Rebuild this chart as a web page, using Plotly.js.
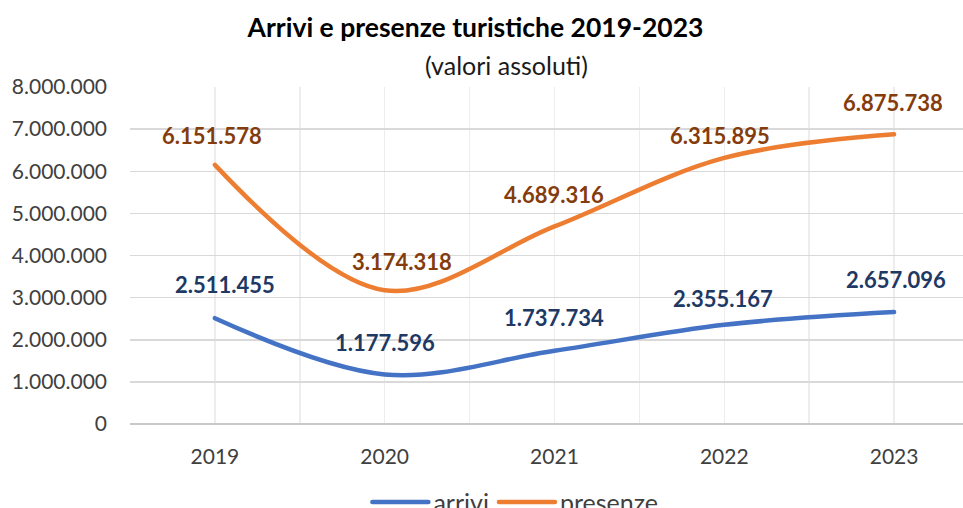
<!DOCTYPE html>
<html>
<head>
<meta charset="utf-8">
<script src="https://cdn.plot.ly/plotly-3.0.1.min.js"></script>
<style>
  html, body { margin: 0; padding: 0; background: #fff; }
  #chart { width: 963px; height: 508px; }
  .js-line { stroke-linecap: round; stroke-linejoin: round; }
</style>
</head>
<body>
<div id="chart"></div>
<script>
// ---- data ----
const years = ['2019', '2020', '2021', '2022', '2023'];
const arrivi = [2511455, 1177596, 1737734, 2355167, 2657096];
const presenze = [6151578, 3174318, 4689316, 6315895, 6875738];
const yTicks = [0, 1000000, 2000000, 3000000, 4000000, 5000000, 6000000, 7000000, 8000000];

// ---- label offsets (style, px) ----
const arriviDx = [10, 0, 0, -1, 2];
const arriviDy = [34, 32, 33, 26, 33];
const presenzeDx = [-3, 17, 0, -4, -1];
const presenzeDy = [29, 29, 32, 22, 32];

const FONT = 'Lato, "Open Sans", sans-serif';
const xIdx = years.map((_, i) => i);

function fmt(v) {
  return String(v).replace(/\B(?=(\d{3})+(?!\d))/g, '.');
}

const traces = [
  {
    name: 'arrivi', x: xIdx, y: arrivi, type: 'scatter', mode: 'lines',
    line: { color: '#4472C4', width: 4.5, shape: 'spline', smoothing: 1 },
    hoverinfo: 'skip'
  },
  {
    name: 'presenze', x: xIdx, y: presenze, type: 'scatter', mode: 'lines',
    line: { color: '#ED7D31', width: 4.5, shape: 'spline', smoothing: 1 },
    hoverinfo: 'skip'
  }
];

const annotations = [];
arrivi.forEach((v, i) => annotations.push({
  x: i, y: v, xref: 'x', yref: 'y', text: fmt(v), showarrow: false,
  xanchor: 'center', yanchor: 'middle', xshift: arriviDx[i], yshift: arriviDy[i],
  font: { family: FONT, size: 22, color: '#203864', weight: 700 }
}));
presenze.forEach((v, i) => annotations.push({
  x: i, y: v, xref: 'x', yref: 'y', text: fmt(v), showarrow: false,
  xanchor: 'center', yanchor: 'middle', xshift: presenzeDx[i], yshift: presenzeDy[i],
  font: { family: FONT, size: 22, color: '#843C0C', weight: 700 }
}));
annotations.push({
  text: '(valori assoluti)', xref: 'paper', yref: 'paper', x: 0.452, y: 1.066,
  xanchor: 'center', yanchor: 'middle', showarrow: false,
  font: { family: FONT, size: 25, color: '#1a1a1a' }
});

// x grid at every half category
const xTickVals = [];
const xTickText = [];
for (let k = -1; k <= 2 * years.length - 1; k++) {
  xTickVals.push(k / 2);
  xTickText.push(k % 2 === 0 && k >= 0 ? years[k / 2] : '');
}

const layout = {
  width: 963, height: 508,
  paper_bgcolor: '#ffffff', plot_bgcolor: '#ffffff',
  separators: ',.',
  margin: { l: 130, r: 0, t: 87, b: 84, autoexpand: false },
  font: { family: FONT, color: '#404040' },
  title: {
    text: '<b>Arrivi e presenze turistiche 2019-2023</b>',
    xref: 'container', yref: 'container', x: 0.4938, y: 0.945,
    xanchor: 'center', yanchor: 'middle',
    font: { family: FONT, size: 26.5, color: '#000000' }
  },
  xaxis: {
    type: 'linear', range: [-0.5, 4.406], fixedrange: true,
    tickmode: 'array', tickvals: xTickVals, ticktext: xTickText,
    showgrid: true, gridcolor: '#ededed', gridwidth: 1.5,
    zeroline: false, showline: false, ticks: '',
    ticklabelstandoff: 18,
    tickfont: { family: FONT, size: 21, color: '#404040' }
  },
  yaxis: {
    range: [0, 8000000], fixedrange: true,
    tickmode: 'array', tickvals: yTicks,
    tickformat: ',d',
    showgrid: true, gridcolor: '#d9d9d9', gridwidth: 1.5,
    zeroline: true, zerolinecolor: '#c8c8c8', zerolinewidth: 2,
    showline: false, ticks: '',
    ticklabelstandoff: 22,
    tickfont: { family: FONT, size: 21, color: '#404040' }
  },
  showlegend: true,
  legend: {
    orientation: 'h', x: 0.285, xanchor: 'left', y: -0.232, yanchor: 'middle',
    font: { family: FONT, size: 25, color: '#404040' },
    itemwidth: 56, tracegroupgap: 0, bgcolor: 'rgba(0,0,0,0)'
  },
  annotations: annotations
};

Plotly.newPlot('chart', traces, layout, { staticPlot: true, displayModeBar: false });
</script>
</body>
</html>
